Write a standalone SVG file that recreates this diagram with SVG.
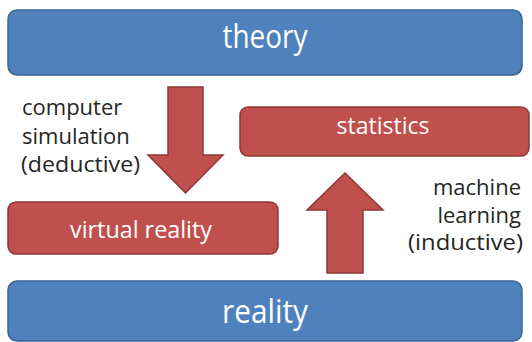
<svg xmlns="http://www.w3.org/2000/svg" width="532" height="342" viewBox="0 0 532 342">
  <defs>
    <style>
      .blue { fill: #4F81BD; stroke: #3A6596; stroke-width: 1.5; }
      .red { fill: #C0504D; stroke: #8C3836; stroke-width: 1.5; }
      .boxtext { font-family: "Open Sans", "Noto Sans", sans-serif; fill: #FFFFFF; text-anchor: middle; }
      .big { font-size: 32px; }
      .small { font-size: 23px; }
      .label { font-family: "Open Sans", "Noto Sans", sans-serif; font-size: 22px; fill: #262626; }
    </style>
  </defs>
  <rect width="532" height="342" fill="#FFFFFF"/>

  <g id="theory">
    <rect class="blue" x="8" y="10" width="514" height="65" rx="9"/>
    <text class="boxtext big" x="265" y="48" textLength="85" lengthAdjust="spacingAndGlyphs">theory</text>
  </g>

  <g id="statistics">
    <rect class="red" x="240" y="107" width="289" height="49" rx="8"/>
    <text class="boxtext small" x="383" y="134" textLength="93" lengthAdjust="spacingAndGlyphs">statistics</text>
  </g>

  <g id="virtual-reality">
    <rect class="red" x="8" y="202" width="270" height="52" rx="8"/>
    <text class="boxtext small" x="141" y="238" textLength="142" lengthAdjust="spacingAndGlyphs">virtual reality</text>
  </g>

  <g id="reality">
    <rect class="blue" x="8" y="281" width="514" height="60" rx="9"/>
    <text class="boxtext big" x="265" y="323" textLength="86" lengthAdjust="spacingAndGlyphs">reality</text>
  </g>

  <g id="connectors">
    <polygon class="red" points="168,87 203,87 203,155 223,155 185.5,193 148,155 168,155"/>
    <polygon class="red" points="327,273 363,273 363,210 383,210 345,173 307,210 327,210"/>
  </g>

  <g id="label-deductive">
    <text class="label" x="22" y="115">computer</text>
    <text class="label" x="22" y="144">simulation</text>
    <text class="label" x="21" y="172" textLength="119" lengthAdjust="spacingAndGlyphs">(deductive)</text>
  </g>

  <g id="label-inductive">
    <text class="label" x="521" y="195" text-anchor="end">machine</text>
    <text class="label" x="521" y="223" text-anchor="end">learning</text>
    <text class="label" x="523" y="250" text-anchor="end" textLength="115" lengthAdjust="spacingAndGlyphs">(inductive)</text>
  </g>
</svg>
